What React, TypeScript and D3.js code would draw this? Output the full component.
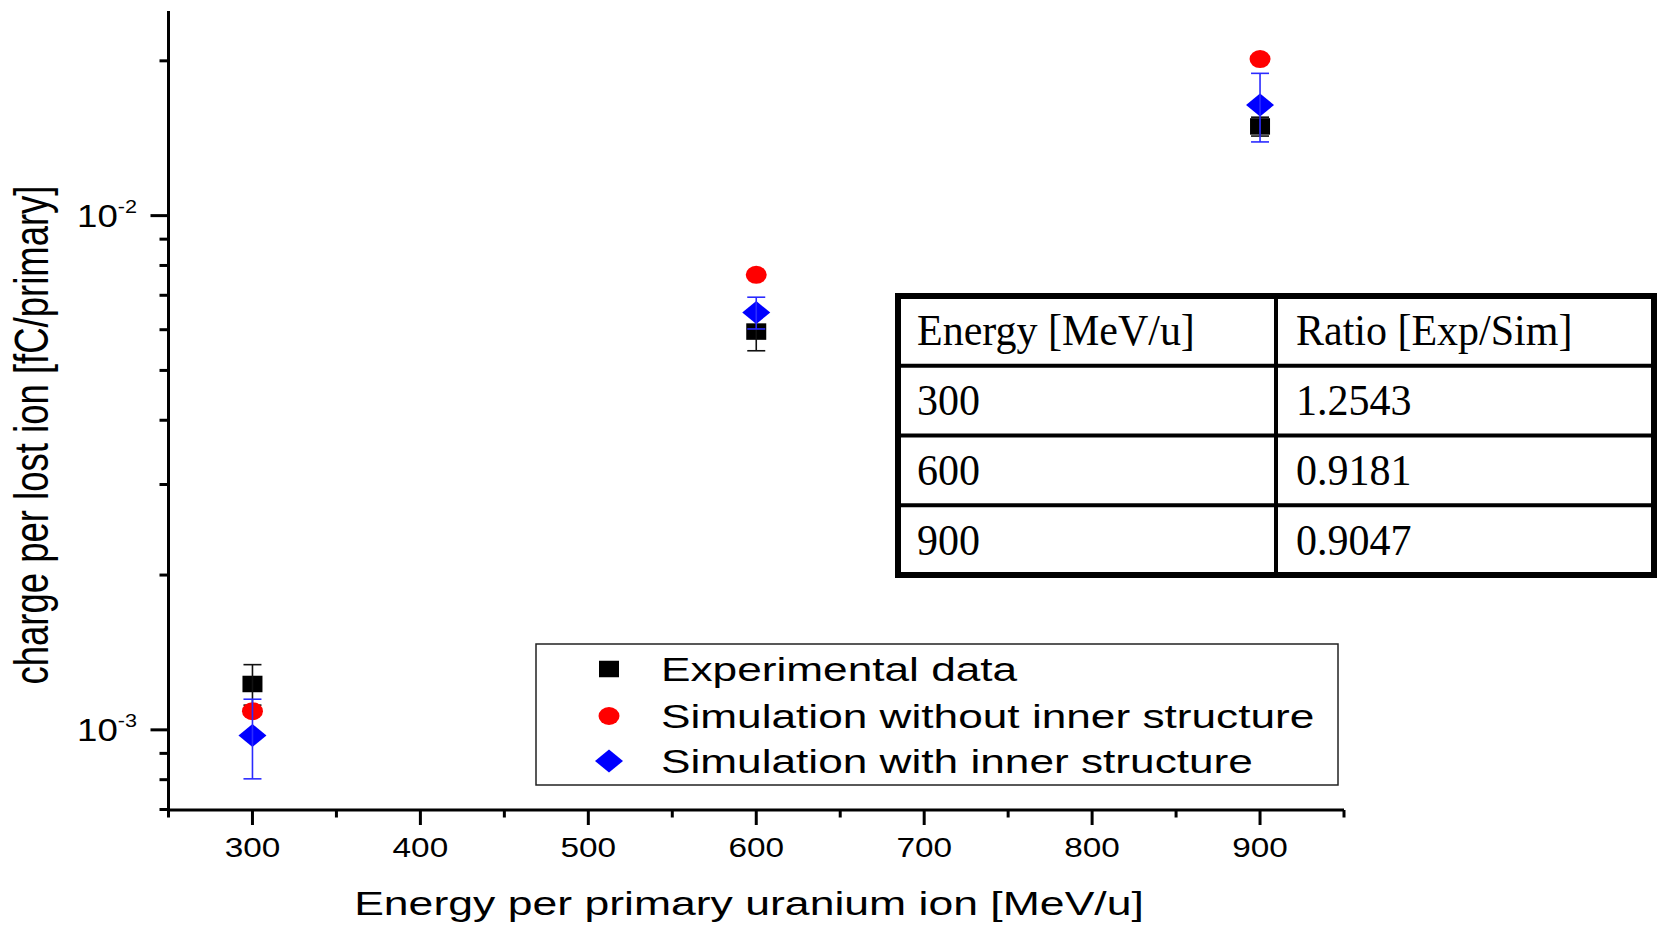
import React from 'react';
import * as d3 from 'd3';

// ---- data ----
const energies = [300, 600, 900];
const expValues = [1.228e-3, 5.95e-3, 1.491e-2];
const expErrors = [0.111e-3, 0.49e-3, 0.063e-2];
const simNoInner = [1.087e-3, 7.67e-3, 2.016e-2];
const simInner = [0.975e-3, 6.48e-3, 1.641e-2];
const simInnerErrors = [0.172e-3, 0.46e-3, 0.25e-2];

const xMajorTicks = [300, 400, 500, 600, 700, 800, 900];
const xMinorTicks = [250, 350, 450, 550, 650, 750, 850, 950];
const yMajorTicks = [1e-3, 1e-2];
const yMajorExponents = ['-3', '-2'];
const yMinorTicks = [7e-4, 8e-4, 9e-4, 2e-3, 3e-3, 4e-3, 5e-3, 6e-3, 7e-3, 8e-3, 9e-3, 2e-2];

const legendLabels = [
  'Experimental data',
  'Simulation without inner structure',
  'Simulation with inner structure',
];
const tableHeader = ['Energy [MeV/u]', 'Ratio [Exp/Sim]'];
const tableEnergies = ['300', '600', '900'];
const tableRatios = ['1.2543', '0.9181', '0.9047'];

// ---- layout / style ----
const W = 1658;
const H = 925;
const SANS = '"Liberation Sans", Arial, sans-serif';
const SERIF = '"Liberation Serif", "Times New Roman", serif';
const X0 = 168.5, X1 = 1344, Y0 = 810, YTOP = 11;

const x = d3.scaleLinear().domain([250, 950]).range([X0, X1]);
const y = d3.scaleLog().domain([7e-4, 2.5e-2]).range([809.5, YTOP]);

const SQ_W = 20, SQ_H = 16.5;
const C_RX = 10.5, C_RY = 9;
const D_W = 14, D_H = 11.5;
const CAP = 9;

const diamondPath = (cx: number, cy: number) =>
  `M${cx},${cy - D_H}L${cx + D_W},${cy}L${cx},${cy + D_H}L${cx - D_W},${cy}Z`;

function ErrorBar({ cx, v, e, color }: { cx: number; v: number; e: number; color: string }) {
  const yt = y(v + e);
  const yb = y(v - e);
  return (
    <g stroke={color} strokeWidth={1.6} fill="none">
      <line x1={cx} x2={cx} y1={yt} y2={yb} />
      <line x1={cx - CAP} x2={cx + CAP} y1={yt} y2={yt} />
      <line x1={cx - CAP} x2={cx + CAP} y1={yb} y2={yb} />
    </g>
  );
}

function Table() {
  const left = 898, right = 1654, top = 296, bottom = 575;
  const colX = 1276;
  const rowYs = d3.range(0, 5).map((i) => top + (i * (bottom - top)) / 4);
  const rows = [tableHeader, ...tableEnergies.map((e, i) => [e, tableRatios[i]])];
  return (
    <g>
      <rect x={left} y={top} width={right - left} height={bottom - top} fill="white" stroke="black" strokeWidth={6} />
      {rowYs.slice(1, 4).map((ry, i) => (
        <line key={i} x1={left} x2={right} y1={ry} y2={ry} stroke="black" strokeWidth={4} />
      ))}
      <line x1={colX} x2={colX} y1={top} y2={bottom} stroke="black" strokeWidth={4} />
      {rows.map((r, i) => {
        const cy = (rowYs[i] + rowYs[i + 1]) / 2 + 14.5;
        return (
          <g key={i} fontFamily={SERIF} fontSize={42} fill="black">
            <text transform={`translate(917,${cy}) scale(1.0,1.04)`}>{r[0]}</text>
            <text transform={`translate(1296,${cy}) scale(1.0,1.04)`}>{r[1]}</text>
          </g>
        );
      })}
    </g>
  );
}

function Legend() {
  const bx = 536, by = 644, bw = 802, bh = 141;
  const rowsY = [669, 716, 761];
  const sx = 609;
  return (
    <g>
      <rect x={bx} y={by} width={bw} height={bh} fill="white" stroke="#222" strokeWidth={1.5} />
      <rect x={sx - SQ_W / 2} y={rowsY[0] - SQ_H / 2} width={SQ_W} height={SQ_H} fill="black" />
      <ellipse cx={sx} cy={rowsY[1]} rx={C_RX} ry={C_RY} fill="#ff0000" />
      <path d={diamondPath(sx, rowsY[2])} fill="#0000ff" />
      {legendLabels.map((l, i) => (
        <text key={i} transform={`translate(661,${rowsY[i] + 12}) scale(1.3,1)`} fontFamily={SANS} fontSize={34} fill="black">
          {l}
        </text>
      ))}
    </g>
  );
}

export default function App() {
  return (
    <div style={{ position: 'fixed', left: 0, top: 0, width: W, height: H, background: 'white' }}>
      <svg width={W} height={H} viewBox={`0 0 ${W} ${H}`} style={{ display: 'block' }}>
        <rect width={W} height={H} fill="white" />

        {/* axes */}
        <g stroke="black" strokeWidth={3}>
          <line x1={X0} x2={X0} y1={YTOP} y2={Y0 + 1.5} />
          <line x1={X0 - 1.5} x2={X1} y1={Y0} y2={Y0} />
          {xMajorTicks.map((t) => (
            <line key={'xM' + t} x1={x(t)} x2={x(t)} y1={Y0} y2={Y0 + 15} />
          ))}
          {xMinorTicks.map((t) => (
            <line key={'xm' + t} x1={x(t)} x2={x(t)} y1={Y0} y2={Y0 + 7.5} />
          ))}
          {yMajorTicks.map((t) => (
            <line key={'yM' + t} x1={X0 - 18} x2={X0} y1={y(t)} y2={y(t)} />
          ))}
          {yMinorTicks.map((t) => (
            <line key={'ym' + t} x1={X0 - 9} x2={X0} y1={y(t)} y2={y(t)} />
          ))}
        </g>

        {/* tick labels */}
        <g fontFamily={SANS} fill="black">
          {xMajorTicks.map((t) => (
            <text key={'xl' + t} transform={`translate(${x(t)},857) scale(1.19,1)`} textAnchor="middle" fontSize={28}>
              {t}
            </text>
          ))}
          {yMajorTicks.map((t, i) => (
            <text key={'yl' + t} transform={`translate(137,${y(t) + 11}) scale(1.2,1)`} textAnchor="end" fontSize={30.5}>
              10
              <tspan fontSize={18} dy={-14}>{yMajorExponents[i]}</tspan>
            </text>
          ))}
        </g>

        {/* axis titles */}
        <text transform={`translate(749,915) scale(1.33,1)`} textAnchor="middle" fontFamily={SANS} fontSize={33.5} fill="black">
          Energy per primary uranium ion [MeV/u]
        </text>
        <text transform={`translate(48,435) scale(1.3,1) rotate(-90)`} textAnchor="middle" fontFamily={SANS} fontSize={36.5} fill="black">
          charge per lost ion [fC/primary]
        </text>

        {/* data: experimental squares */}
        {energies.map((e, i) => (
          <rect key={'sq' + e} x={x(e) - SQ_W / 2} y={y(expValues[i]) - SQ_H / 2} width={SQ_W} height={SQ_H} fill="black" />
        ))}
        {energies.map((e, i) => (
          <ErrorBar key={'eb' + e} cx={x(e)} v={expValues[i]} e={expErrors[i]} color="#111" />
        ))}
        {/* simulation without inner structure */}
        {energies.map((e, i) => (
          <ellipse key={'ci' + e} cx={x(e)} cy={y(simNoInner[i])} rx={C_RX} ry={C_RY} fill="#ff0000" />
        ))}
        {/* simulation with inner structure */}
        {energies.map((e, i) => (
          <path key={'di' + e} d={diamondPath(x(e), y(simInner[i]))} fill="#0000ff" />
        ))}
        {energies.map((e, i) => (
          <ErrorBar key={'bb' + e} cx={x(e)} v={simInner[i]} e={simInnerErrors[i]} color="#2a2aff" />
        ))}

        <Table />
        <Legend />
      </svg>
    </div>
  );
}
